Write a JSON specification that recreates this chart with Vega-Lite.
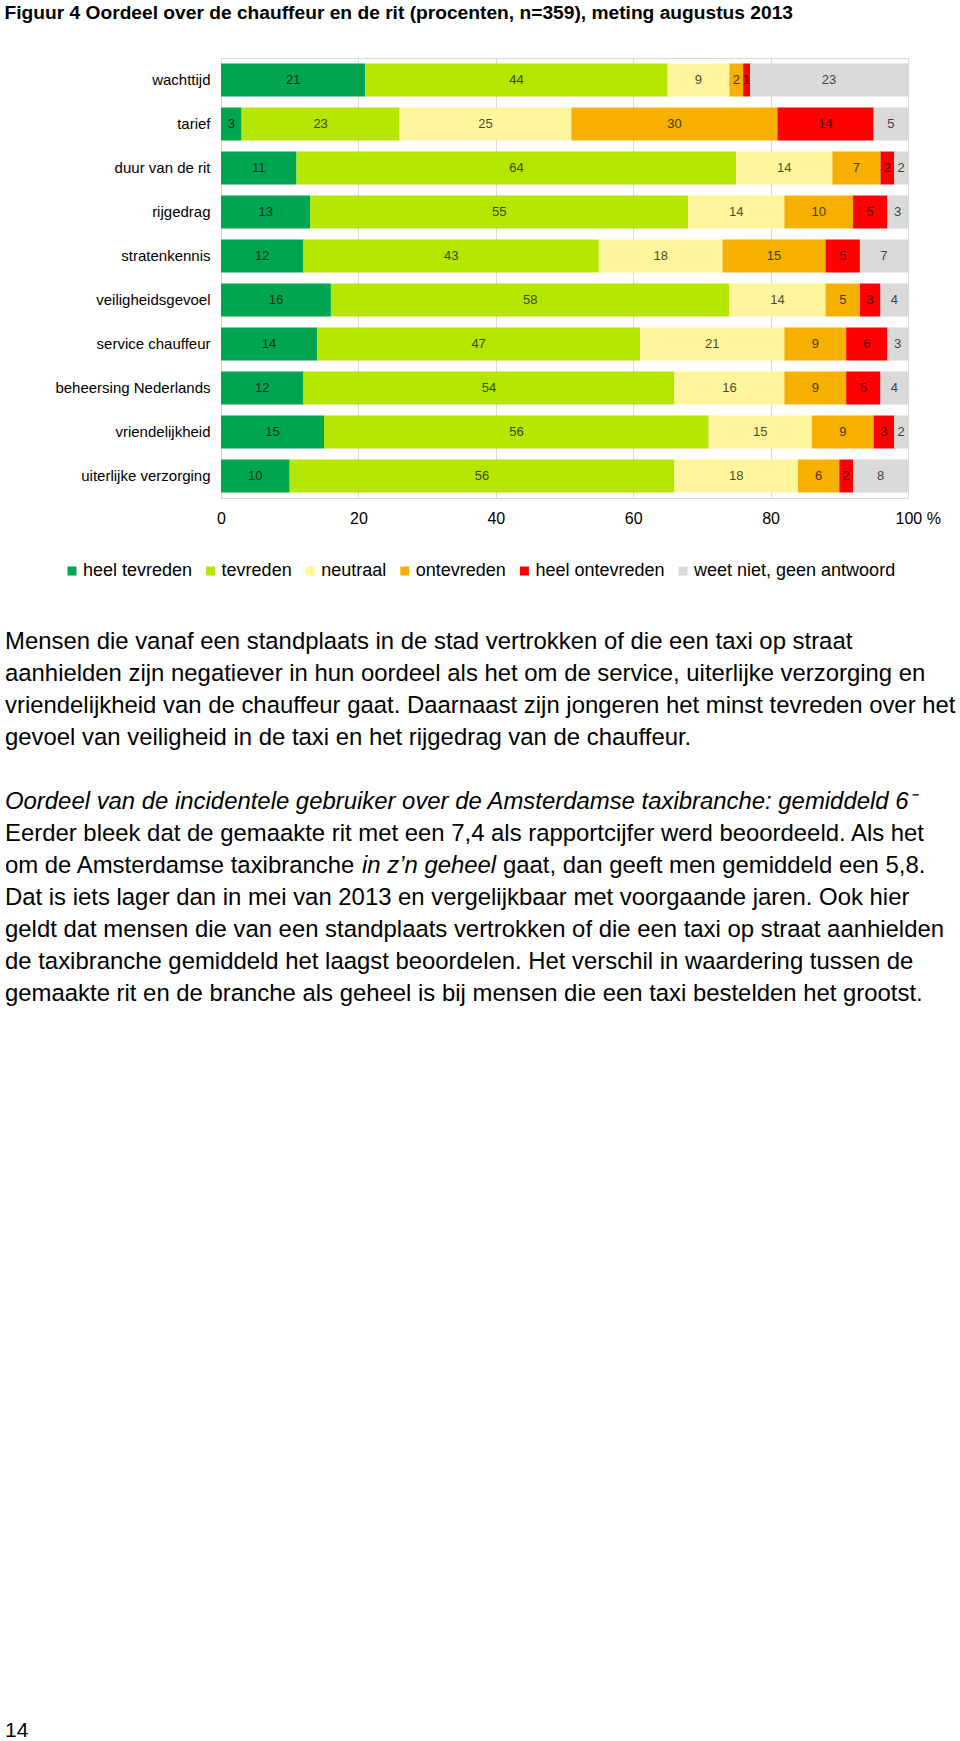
{
  "$schema": "https://vega.github.io/schema/vega-lite/v6.json",
  "background": "white",
  "padding": {"left": 4, "top": 4, "right": 0, "bottom": 0},
  "config": {"font": "Liberation Sans", "view": {"stroke": null}},
  "title": {"text": "Figuur 4 Oordeel over de chauffeur en de rit (procenten, n=359), meting augustus 2013", "anchor": "start", "frame": "bounds", "fontSize": 19.2, "fontWeight": "bold", "font": "Liberation Sans", "color": "#000000", "offset": 34},
  "spacing": 90,
  "vconcat": [
    {
      "width": 687,
      "height": 440,
      "view": {"stroke": "#d9d9d9"},
      "data": {"values": [
        {"aspect": "wachttijd", "oordeel": "heel tevreden", "k": 1, "value": 21},
        {"aspect": "wachttijd", "oordeel": "tevreden", "k": 2, "value": 44},
        {"aspect": "wachttijd", "oordeel": "neutraal", "k": 3, "value": 9},
        {"aspect": "wachttijd", "oordeel": "ontevreden", "k": 4, "value": 2},
        {"aspect": "wachttijd", "oordeel": "heel ontevreden", "k": 5, "value": 1},
        {"aspect": "wachttijd", "oordeel": "weet niet, geen antwoord", "k": 6, "value": 23},
        {"aspect": "tarief", "oordeel": "heel tevreden", "k": 1, "value": 3},
        {"aspect": "tarief", "oordeel": "tevreden", "k": 2, "value": 23},
        {"aspect": "tarief", "oordeel": "neutraal", "k": 3, "value": 25},
        {"aspect": "tarief", "oordeel": "ontevreden", "k": 4, "value": 30},
        {"aspect": "tarief", "oordeel": "heel ontevreden", "k": 5, "value": 14},
        {"aspect": "tarief", "oordeel": "weet niet, geen antwoord", "k": 6, "value": 5},
        {"aspect": "duur van de rit", "oordeel": "heel tevreden", "k": 1, "value": 11},
        {"aspect": "duur van de rit", "oordeel": "tevreden", "k": 2, "value": 64},
        {"aspect": "duur van de rit", "oordeel": "neutraal", "k": 3, "value": 14},
        {"aspect": "duur van de rit", "oordeel": "ontevreden", "k": 4, "value": 7},
        {"aspect": "duur van de rit", "oordeel": "heel ontevreden", "k": 5, "value": 2},
        {"aspect": "duur van de rit", "oordeel": "weet niet, geen antwoord", "k": 6, "value": 2},
        {"aspect": "rijgedrag", "oordeel": "heel tevreden", "k": 1, "value": 13},
        {"aspect": "rijgedrag", "oordeel": "tevreden", "k": 2, "value": 55},
        {"aspect": "rijgedrag", "oordeel": "neutraal", "k": 3, "value": 14},
        {"aspect": "rijgedrag", "oordeel": "ontevreden", "k": 4, "value": 10},
        {"aspect": "rijgedrag", "oordeel": "heel ontevreden", "k": 5, "value": 5},
        {"aspect": "rijgedrag", "oordeel": "weet niet, geen antwoord", "k": 6, "value": 3},
        {"aspect": "stratenkennis", "oordeel": "heel tevreden", "k": 1, "value": 12},
        {"aspect": "stratenkennis", "oordeel": "tevreden", "k": 2, "value": 43},
        {"aspect": "stratenkennis", "oordeel": "neutraal", "k": 3, "value": 18},
        {"aspect": "stratenkennis", "oordeel": "ontevreden", "k": 4, "value": 15},
        {"aspect": "stratenkennis", "oordeel": "heel ontevreden", "k": 5, "value": 5},
        {"aspect": "stratenkennis", "oordeel": "weet niet, geen antwoord", "k": 6, "value": 7},
        {"aspect": "veiligheidsgevoel", "oordeel": "heel tevreden", "k": 1, "value": 16},
        {"aspect": "veiligheidsgevoel", "oordeel": "tevreden", "k": 2, "value": 58},
        {"aspect": "veiligheidsgevoel", "oordeel": "neutraal", "k": 3, "value": 14},
        {"aspect": "veiligheidsgevoel", "oordeel": "ontevreden", "k": 4, "value": 5},
        {"aspect": "veiligheidsgevoel", "oordeel": "heel ontevreden", "k": 5, "value": 3},
        {"aspect": "veiligheidsgevoel", "oordeel": "weet niet, geen antwoord", "k": 6, "value": 4},
        {"aspect": "service chauffeur", "oordeel": "heel tevreden", "k": 1, "value": 14},
        {"aspect": "service chauffeur", "oordeel": "tevreden", "k": 2, "value": 47},
        {"aspect": "service chauffeur", "oordeel": "neutraal", "k": 3, "value": 21},
        {"aspect": "service chauffeur", "oordeel": "ontevreden", "k": 4, "value": 9},
        {"aspect": "service chauffeur", "oordeel": "heel ontevreden", "k": 5, "value": 6},
        {"aspect": "service chauffeur", "oordeel": "weet niet, geen antwoord", "k": 6, "value": 3},
        {"aspect": "beheersing Nederlands", "oordeel": "heel tevreden", "k": 1, "value": 12},
        {"aspect": "beheersing Nederlands", "oordeel": "tevreden", "k": 2, "value": 54},
        {"aspect": "beheersing Nederlands", "oordeel": "neutraal", "k": 3, "value": 16},
        {"aspect": "beheersing Nederlands", "oordeel": "ontevreden", "k": 4, "value": 9},
        {"aspect": "beheersing Nederlands", "oordeel": "heel ontevreden", "k": 5, "value": 5},
        {"aspect": "beheersing Nederlands", "oordeel": "weet niet, geen antwoord", "k": 6, "value": 4},
        {"aspect": "vriendelijkheid", "oordeel": "heel tevreden", "k": 1, "value": 15},
        {"aspect": "vriendelijkheid", "oordeel": "tevreden", "k": 2, "value": 56},
        {"aspect": "vriendelijkheid", "oordeel": "neutraal", "k": 3, "value": 15},
        {"aspect": "vriendelijkheid", "oordeel": "ontevreden", "k": 4, "value": 9},
        {"aspect": "vriendelijkheid", "oordeel": "heel ontevreden", "k": 5, "value": 3},
        {"aspect": "vriendelijkheid", "oordeel": "weet niet, geen antwoord", "k": 6, "value": 2},
        {"aspect": "uiterlijke verzorging", "oordeel": "heel tevreden", "k": 1, "value": 10},
        {"aspect": "uiterlijke verzorging", "oordeel": "tevreden", "k": 2, "value": 56},
        {"aspect": "uiterlijke verzorging", "oordeel": "neutraal", "k": 3, "value": 18},
        {"aspect": "uiterlijke verzorging", "oordeel": "ontevreden", "k": 4, "value": 6},
        {"aspect": "uiterlijke verzorging", "oordeel": "heel ontevreden", "k": 5, "value": 2},
        {"aspect": "uiterlijke verzorging", "oordeel": "weet niet, geen antwoord", "k": 6, "value": 8}
      ]},
      "encoding": {
        "y": {
          "field": "aspect", "type": "nominal",
          "sort": ["wachttijd", "tarief", "duur van de rit", "rijgedrag", "stratenkennis", "veiligheidsgevoel", "service chauffeur", "beheersing Nederlands", "vriendelijkheid", "uiterlijke verzorging"],
          "scale": {"paddingInner": 0.25, "paddingOuter": 0.125},
          "axis": {"title": null, "ticks": false, "domain": false, "labelFontSize": 15, "labelColor": "#000000", "labelPadding": 11, "minExtent": 216, "labelLimit": 300}
        },
        "order": {"field": "k", "type": "quantitative"}
      },
      "layer": [
        {
          "mark": {"type": "bar"},
          "encoding": {
            "x": {
              "field": "value", "type": "quantitative", "stack": "zero",
              "scale": {"domain": [0, 100], "nice": false},
              "axis": {
                "title": null, "values": [0, 20, 40, 60, 80, 100], "grid": true, "gridColor": "#d9d9d9", "domain": false, "ticks": false,
                "labelFontSize": 16, "labelColor": "#000000", "labelPadding": 12,
                "labelExpr": "datum.value == 100 ? '100 %' : datum.label",
                "labelAlign": {"condition": {"test": "datum.value == 100", "value": "left"}, "value": "center"},
                "labelOffset": {"condition": {"test": "datum.value == 100", "value": -13}, "value": 0}
              }
            },
            "color": {
              "field": "oordeel", "type": "nominal",
              "scale": {
                "domain": ["heel tevreden", "tevreden", "neutraal", "ontevreden", "heel ontevreden", "weet niet, geen antwoord"],
                "range": ["#00A550", "#B5E600", "#FFF59C", "#F5B000", "#FF0000", "#D9D9D9"]
              },
              "legend": {
                "title": null, "orient": "none", "direction": "horizontal", "legendX": -158, "legendY": 504,
                "symbolType": "square", "symbolSize": 81, "symbolStrokeWidth": 0, "labelFontSize": 18, "labelColor": "#000000",
                "labelOffset": 2, "columnPadding": 8.6, "padding": 0, "labelLimit": 400
              }
            }
          }
        },
        {
          "mark": {"type": "text", "fontSize": 13, "color": "#000000", "opacity": 0.7, "baseline": "middle", "align": "center"},
          "encoding": {
            "x": {"field": "value", "type": "quantitative", "stack": "zero", "bandPosition": 0.5},
            "text": {"field": "value", "type": "quantitative"}
          }
        }
      ]
    },
    {
      "width": 740,
      "height": 1120,
      "view": {"stroke": null},
      "data": {"values": [
        {"line": 1, "kind": "body", "text": "Mensen die vanaf een standplaats in de stad vertrokken of die een taxi op straat"},
        {"line": 2, "kind": "body", "text": "aanhielden zijn negatiever in hun oordeel als het om de service, uiterlijke verzorging en"},
        {"line": 3, "kind": "body", "text": "vriendelijkheid van de chauffeur gaat. Daarnaast zijn jongeren het minst tevreden over het"},
        {"line": 4, "kind": "body", "text": "gevoel van veiligheid in de taxi en het rijgedrag van de chauffeur."},
        {"line": 6, "kind": "heading", "text": "Oordeel van de incidentele gebruiker over de Amsterdamse taxibranche: gemiddeld 6⁻"},
        {"line": 7, "kind": "body", "text": "Eerder bleek dat de gemaakte rit met een 7,4 als rapportcijfer werd beoordeeld. Als het"},
        {"line": 8, "kind": "body", "text": "om de Amsterdamse taxibranche"},
        {"line": 8, "kind": "emphasis", "text": "in z’n geheel"},
        {"line": 8, "kind": "continuation", "text": "gaat, dan geeft men gemiddeld een 5,8."},
        {"line": 9, "kind": "body", "text": "Dat is iets lager dan in mei van 2013 en vergelijkbaar met voorgaande jaren. Ook hier"},
        {"line": 10, "kind": "body", "text": "geldt dat mensen die van een standplaats vertrokken of die een taxi op straat aanhielden"},
        {"line": 11, "kind": "body", "text": "de taxibranche gemiddeld het laagst beoordelen. Het verschil in waardering tussen de"},
        {"line": 12, "kind": "body", "text": "gemaakte rit en de branche als geheel is bij mensen die een taxi bestelden het grootst."},
        {"line": 35, "kind": "page", "text": "14"}
      ]},
      "encoding": {
        "x": {"datum": 0, "type": "quantitative", "scale": {"domain": [0, 1], "range": [-216, 740], "nice": false}, "axis": null},
        "y": {"field": "line", "type": "quantitative", "scale": {"domain": [0, 35], "reverse": true, "nice": false, "zero": false}, "axis": null},
        "text": {"field": "text", "type": "nominal"}
      },
      "layer": [
        {"transform": [{"filter": "datum.kind == 'body'"}], "mark": {"type": "text", "align": "left", "baseline": "alphabetic", "fontSize": 23.9, "color": "#000000"}},
        {"transform": [{"filter": "datum.kind == 'heading'"}], "mark": {"type": "text", "align": "left", "baseline": "alphabetic", "fontSize": 23.9, "fontStyle": "italic", "color": "#000000"}},
        {"transform": [{"filter": "datum.kind == 'emphasis'"}], "mark": {"type": "text", "align": "left", "baseline": "alphabetic", "fontSize": 23.9, "fontStyle": "italic", "color": "#000000", "dx": 357}},
        {"transform": [{"filter": "datum.kind == 'continuation'"}], "mark": {"type": "text", "align": "left", "baseline": "alphabetic", "fontSize": 23.9, "color": "#000000", "dx": 498}},
        {"transform": [{"filter": "datum.kind == 'page'"}], "mark": {"type": "text", "align": "left", "baseline": "alphabetic", "fontSize": 21, "color": "#000000"}}
      ]
    }
  ]
}
